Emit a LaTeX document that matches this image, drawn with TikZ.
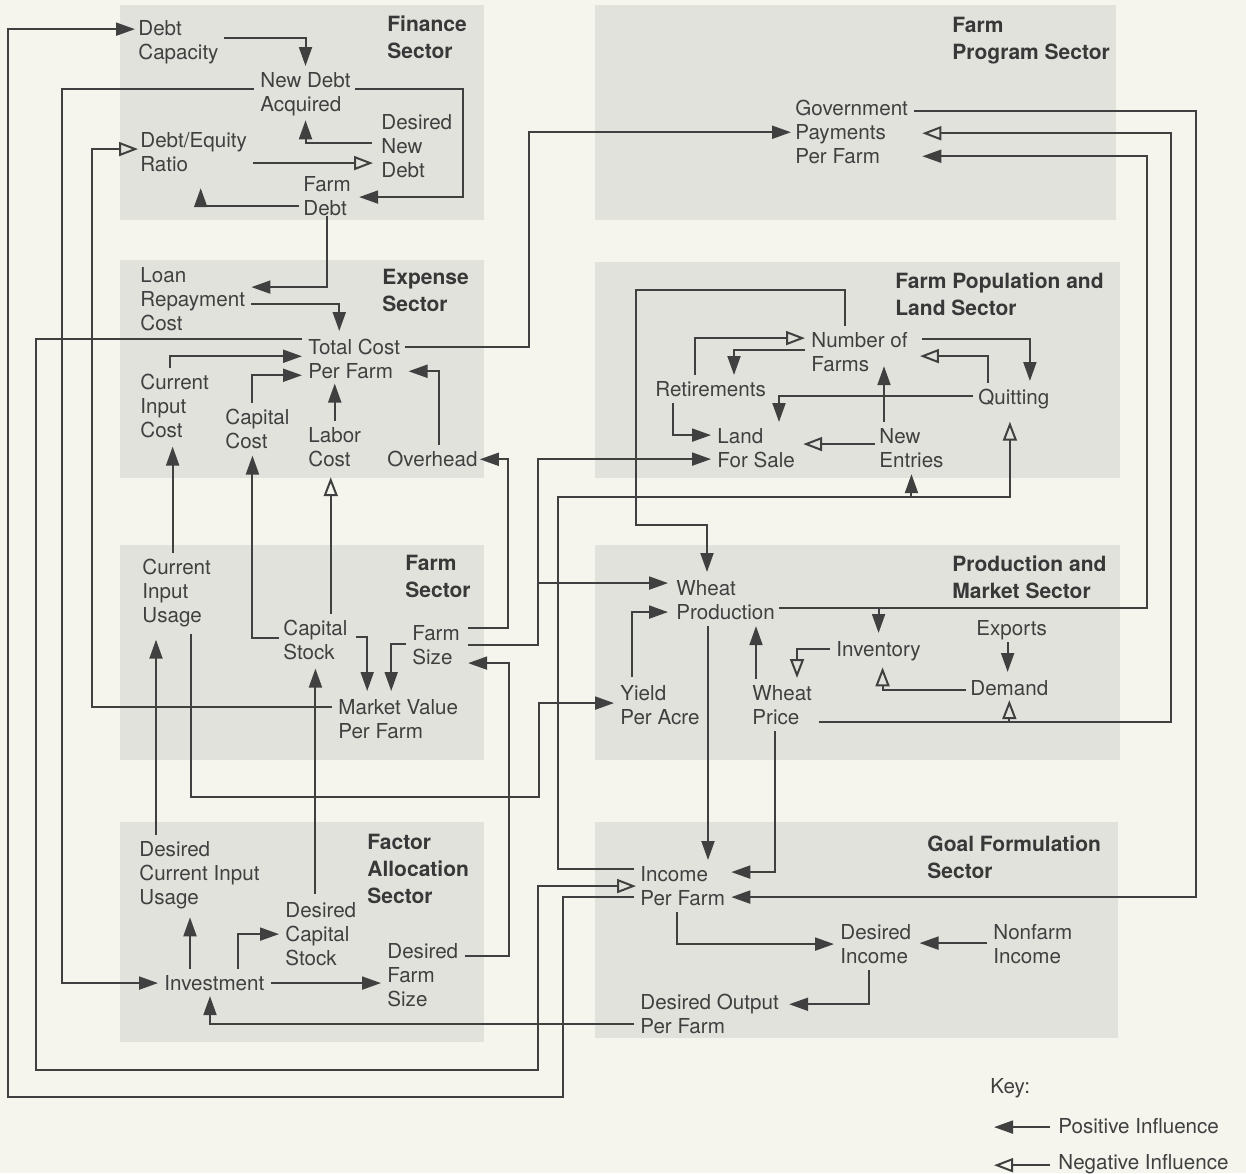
\documentclass[tikz,border=0pt]{standalone}
\usepackage{fontspec}
\setmainfont{TeX Gyre Heros}
\usetikzlibrary{calc, arrows.meta}
\definecolor{paper}{HTML}{F5F5EE}
\definecolor{panel}{HTML}{E2E2DD}
\definecolor{ink}{HTML}{404040}
\definecolor{titleink}{HTML}{383838}

\begin{document}
\begin{tikzpicture}[x=0.5pt, y=-0.5pt,
        lbl/.style={anchor=north west, inner sep=0pt, align=left, text=ink,
            font=\fontsize{10.3}{12}\selectfont},
        ttl/.style={anchor=north west, inner sep=0pt, align=left, text=titleink,
            font=\fontsize{10.5}{13.5}\selectfont\bfseries},
        sector/.style={fill=panel},
        posarr/.style={draw=ink, line width=1pt, -{Triangle[length=9.5pt, width=6.5pt]}},
        negarr/.style={draw=ink, line width=1pt, -{Triangle[open, length=9.5pt, width=7pt]}}]
    % paper and sector panels
    \fill[paper] (0,0) rectangle (1246,1173);
    \useasboundingbox (0,0) rectangle (1246,1173);
    \fill[sector] (120,5) rectangle (484,220);     % finance
    \fill[sector] (120,260) rectangle (484,478);   % expense
    \fill[sector] (120,545) rectangle (484,760);   % farm
    \fill[sector] (120,822) rectangle (484,1042);  % factor allocation
    \fill[sector] (595,5) rectangle (1116,220);    % farm program
    \fill[sector] (595,262) rectangle (1120,478);  % population and land
    \fill[sector] (595,545) rectangle (1120,760);  % production and market
    \fill[sector] (595,822) rectangle (1118,1038); % goal formulation
    % Finance sector
    \node[ttl] (fintitle) at (387,15) {Finance\\Sector};
    \node[lbl] (dcap) at (138,20) {Debt\\Capacity};
    \node[lbl] (ndebt) at (260,72) {New Debt\\Acquired};
    \node[lbl] (dndebt) at (381,114) {Desired\\New\\Debt};
    \node[lbl] (deratio) at (140,132) {Debt/Equity\\Ratio};
    \node[lbl] (fdebt) at (303,176) {Farm\\Debt};
    % Expense sector
    \node[ttl] (exptitle) at (382,269) {Expense\\Sector};
    \node[lbl] (loan) at (140,267) {Loan\\Repayment\\Cost};
    \node[lbl] (tcost) at (308,339) {Total Cost\\Per Farm};
    \node[lbl] (cicost) at (140,374) {Current\\Input\\Cost};
    \node[lbl] (capcost) at (225,409) {Capital\\Cost};
    \node[lbl] (labcost) at (308,427) {Labor\\Cost};
    \node[lbl] (overhead) at (387,451) {Overhead};
    % Farm sector
    \node[ttl] (farmtitle) at (405,555) {Farm\\Sector};
    \node[lbl] (ciusage) at (142,559) {Current\\Input\\Usage};
    \node[lbl] (capstock) at (283,620) {Capital\\Stock};
    \node[lbl] (fsize) at (412,625) {Farm\\Size};
    \node[lbl] (mvalue) at (338,699) {Market Value\\Per Farm};
    % Factor allocation sector
    \node[ttl] (fatitle) at (367,834) {Factor\\Allocation\\Sector};
    \node[lbl] (dciusage) at (139,841) {Desired\\Current Input\\Usage};
    \node[lbl] (dcapstock) at (285,902) {Desired\\Capital\\Stock};
    \node[lbl] (invest) at (164,975) {Investment};
    \node[lbl] (dfsize) at (387,943) {Desired\\Farm\\Size};
    % Farm program sector
    \node[ttl] (fptitle) at (952,17) {Farm\\Program Sector};
    \node[lbl] (gpay) at (795,100) {Government\\Payments\\Per Farm};
    % Farm population and land sector
    \node[ttl] (fpltitle) at (895,272) {Farm Population and\\Land Sector};
    \node[lbl] (nfarms) at (811,332) {Number of\\Farms};
    \node[lbl] (retire) at (655,381) {Retirements};
    \node[lbl] (quit) at (978,389) {Quitting};
    \node[lbl] (land) at (717,428) {Land\\For Sale};
    \node[lbl] (nentries) at (879,428) {New\\Entries};
    % Production and market sector
    \node[ttl] (pmtitle) at (952,555) {Production and\\Market Sector};
    \node[lbl] (wprod) at (676,580) {Wheat\\Production};
    \node[lbl] (exports) at (976,620) {Exports};
    \node[lbl] (inventory) at (836,641) {Inventory};
    \node[lbl] (yield) at (620,685) {Yield\\Per Acre};
    \node[lbl] (wprice) at (752,685) {Wheat\\Price};
    \node[lbl] (demand) at (970,680) {Demand};
    % Goal formulation sector
    \node[ttl] (gftitle) at (927,835) {Goal Formulation\\Sector};
    \node[lbl] (income) at (640,866) {Income\\Per Farm};
    \node[lbl] (dincome) at (840,924) {Desired\\Income};
    \node[lbl] (nfincome) at (993,924) {Nonfarm\\Income};
    \node[lbl] (doutput) at (640,994) {Desired Output\\Per Farm};
    % Key
    \node[lbl] (keyt) at (990,1078) {Key:};
    \node[lbl] (keypos) at (1058,1118) {Positive Influence};
    \node[lbl] (keyneg) at (1058,1154) {Negative Influence};
    % helper points
    \coordinate (wpin) at ($(wprod.west)+(-8,-17)$);
    \coordinate (dcu) at ($(dciusage.north west)+(17,-6)$);
    \coordinate (ivu) at ($(invest.north west)+(26,-6)$);
    \coordinate (wps) at ($(wprod.south west)+(32,6)$);
    \coordinate (wpn) at ($(wprice.north west)+(4,-6)$);
    \coordinate (nen) at ($(nentries.north west)+(5,-6)$);

    % Finance links
    \draw[posarr] ($(dcap.east)+(5,-4)$) -| ($(ndebt.north)+(0,-6)$);
    \draw[posarr] ($(dndebt.west)+(-9,-3)$) -| ($(ndebt.south)+(0,4)$);
    \draw[negarr] ($(deratio.east)+(6,11)$) coordinate (dr)
        -- ($(dr -| dndebt.west)+(-8,0)$);
    \draw[posarr] ($(fdebt.west)+(-4,10)$) -| ($(deratio.south)+(7,16)$);
    \draw[posarr] ($(ndebt.east)+(4,-5)$) -- ++(108,0) |- ($(fdebt.east)+(8,1)$);
    \draw[posarr] ($(ndebt.west)+(-6,-5)$) -- ++(-192,0) |- ($(invest.west)+(-6,0)$);
    \draw[negarr] ($(mvalue.west)+(-6,-12)$) -- ++(-240,0) |- ($(deratio.west)+(-2,-3)$);
    \draw[posarr] ($(income.west)+(-6,11)$) -- ++(-71,0) -- ++(0,200)
        -- ++(-555,0) |- ($(dcap.west)+(-3,-13)$); % to debt capacity
    \draw[negarr] ($(tcost.west)+(-6,-20)$) -- ++(-266,0) -- ++(0,731)
        -- ++(502,0) |- ($(income.west)+(-4,0)$); % cost to income
    \draw[posarr] ($(tcost.east)+(4,-12)$) -- ++(124,0) |- ($(gpay.west)+(-4,0)$);
    % Expense links
    \draw[posarr] (fdebt.south) |- ($(loan.east)+(6,-12)$);
    \draw[posarr] ($(loan.east)+(6,5)$) -| ($(tcost.north)+(-15,-8)$);
    \draw[posarr] ($(cicost.north)+(-5,-6)$) |- ($(tcost.west)+(-6,-3)$);
    \draw[posarr] ($(capcost.north)+(-5,-6)$) |- ($(tcost.west)+(-6,16)$);
    \draw[posarr] ($(labcost.north)+(0,-6)$) -- ($(labcost.north |- tcost.south)+(0,4)$);
    \draw[posarr] ($(overhead.north)+(7,-6)$) |- ($(tcost.east)+(8,12)$);
    \draw[posarr] ($(fsize.east)+(8,-17)$) -- ++(40,0) |- ($(overhead.east)+(2,0)$);
    % Farm links
    \draw[posarr] ($(cicost.south |- ciusage.north)+(-2,-6)$) -- ($(cicost.south)+(-2,8)$);
    \draw[posarr] ($(capstock.west)+(-4,-2)$) -| ($(capcost.south)+(-5,6)$);
    \draw[negarr] ($(labcost.south |- capstock.north)+(-4,-6)$) -- ($(labcost.south)+(-4,10)$);
    \draw[posarr] ($(capstock.east)+(8,-3)$) -| ($(mvalue.north)+(-31,-8)$);
    \draw[posarr] ($(fsize.west)+(-6,-1)$) -| ($(mvalue.north)+(-7,-8)$);
    \draw[posarr] ($(fsize.east)+(8,0)$) -- ++(70,0) coordinate (fsj)
        |- ($(land.west)+(-6,11)$);
    \draw[posarr] (fsj |- wpin) -- (wpin);
    \draw[posarr] ($(dfsize.east)+(6,-19)$) -- ++(44,0) |- ($(fsize.east)+(8,18)$);
    \draw[posarr] ($(ciusage.south)+(14,6)$) -- ++(0,163) -- ++(348,0)
        |- ($(yield.west)+(-6,-2)$); % usage to yield
    % Factor allocation links
    \draw[posarr] (dcu) -- ($(dcu |- ciusage.south)+(0,12)$);
    \draw[posarr] ($(capstock.south |- dcapstock.north)+(0,-8)$) -- ($(capstock.south)+(0,8)$);
    \draw[posarr] (ivu) -- ($(ivu |- dciusage.south)+(0,8)$);
    \draw[posarr] ($(invest.north west)+(74,-6)$) |- ($(dcapstock.west)+(-6,0)$);
    \draw[posarr] ($(invest.east)+(6,0)$) -- ($(invest.east -| dfsize.west)+(-6,0)$);
    \draw[posarr] ($(doutput.west)+(-6,10)$) -| ($(invest.south west)+(46,5)$);
    % Farm program links
    \draw[posarr] ($(gpay.east)+(6,-21)$) -- ++(282,0) |- ($(income.east)+(6,11)$);
    \draw[negarr] ($(wprice.east)+(7,17)$) coordinate (wpl) -- ++(352,0)
        |- ($(gpay.east)+(14,1)$);
    \draw[negarr] (demand.south |- wpl) -- ($(demand.south)+(0,4)$);
    \draw[posarr] ($(wprod.east)+(4,8)$) coordinate (wpr) -- ++(368,0)
        |- ($(gpay.east)+(14,24)$);
    \draw[posarr] (inventory.north |- wpr) -- ($(inventory.north)+(0,-8)$);
    % Production and market links
    \draw[posarr] ($(nfarms.north west)+(34,-6)$) -- ++(0,-36) -| ++(-209,235)
        -| ($(wprod.north west)+(31,-8)$);
    \draw[posarr] (wps) -- ($(wps |- income.north)+(0,-6)$);
    \draw[posarr] (wpn) -- ($(wpn |- wprod.south)+(0,6)$);
    \draw[posarr] ($(yield.north west)+(12,-8)$) |- ($(wprod.west)+(-8,12)$);
    \draw[negarr] ($(inventory.west)+(-6,-2)$) -| ($(wprice.north west)+(45,-7)$);
    \draw[negarr] ($(demand.west)+(-4,2)$) -| ($(inventory.south)+(4,6)$);
    \draw[posarr] ($(exports.south)+(-4,2)$) -- ($(exports.south |- demand.north)+(-4,-8)$);
    \draw[posarr] ($(wprice.south west)+(23,6)$) |- ($(income.east)+(6,-14)$);
    % Population and land links
    \draw[posarr] ($(nfarms.east)+(14,-13)$) -| ($(quit.north)+(16,-8)$);
    \draw[negarr] ($(quit.north west)+(10,-6)$) |- ($(nfarms.east)+(12,4)$);
    \draw[negarr] ($(retire.north west)+(40,-6)$) |- ($(nfarms.west)+(-6,-14)$);
    \draw[posarr] ($(nfarms.west)+(-6,-2)$) -| ($(retire.north west)+(79,-6)$);
    \draw[posarr] ($(retire.south west)+(18,6)$) |- ($(land.west)+(-6,-13)$);
    \draw[posarr] ($(quit.west)+(-5,-3)$) -| ($(land.north west)+(62,-6)$);
    \draw[posarr] (nen) -- ($(nen |- nfarms.south)+(0,-6)$);
    \draw[negarr] ($(nentries.west)+(-4,-4)$) -- ($(nentries.west -| land.east)+(8,-4)$);
    \draw[negarr] ($(income.west)+(-6,-17)$) -- ++(-76,0) -- ++(0,-372) coordinate (ipj)
        -| ($(quit.south)+(-4,12)$); % income to quitting
    \draw[posarr] (nentries.south |- ipj) -- ($(nentries.south)+(0,6)$);
    % Goal formulation links
    \draw[posarr] ($(income.south west)+(37,6)$) |- ($(dincome.west)+(-6,0)$);
    \draw[posarr] ($(nfincome.west)+(-6,-1)$) -- ($(nfincome.west -| dincome.east)+(8,-1)$);
    \draw[posarr] ($(dincome.south west)+(29,6)$) |- ($(doutput.east)+(10,-10)$);
    % Key arrows
    \draw[posarr] ($(keypos.west)+(-8,1)$) -- ++(-56,0);
    \draw[negarr] ($(keyneg.west)+(-8,1)$) -- ++(-56,0);
\end{tikzpicture}
\end{document}
